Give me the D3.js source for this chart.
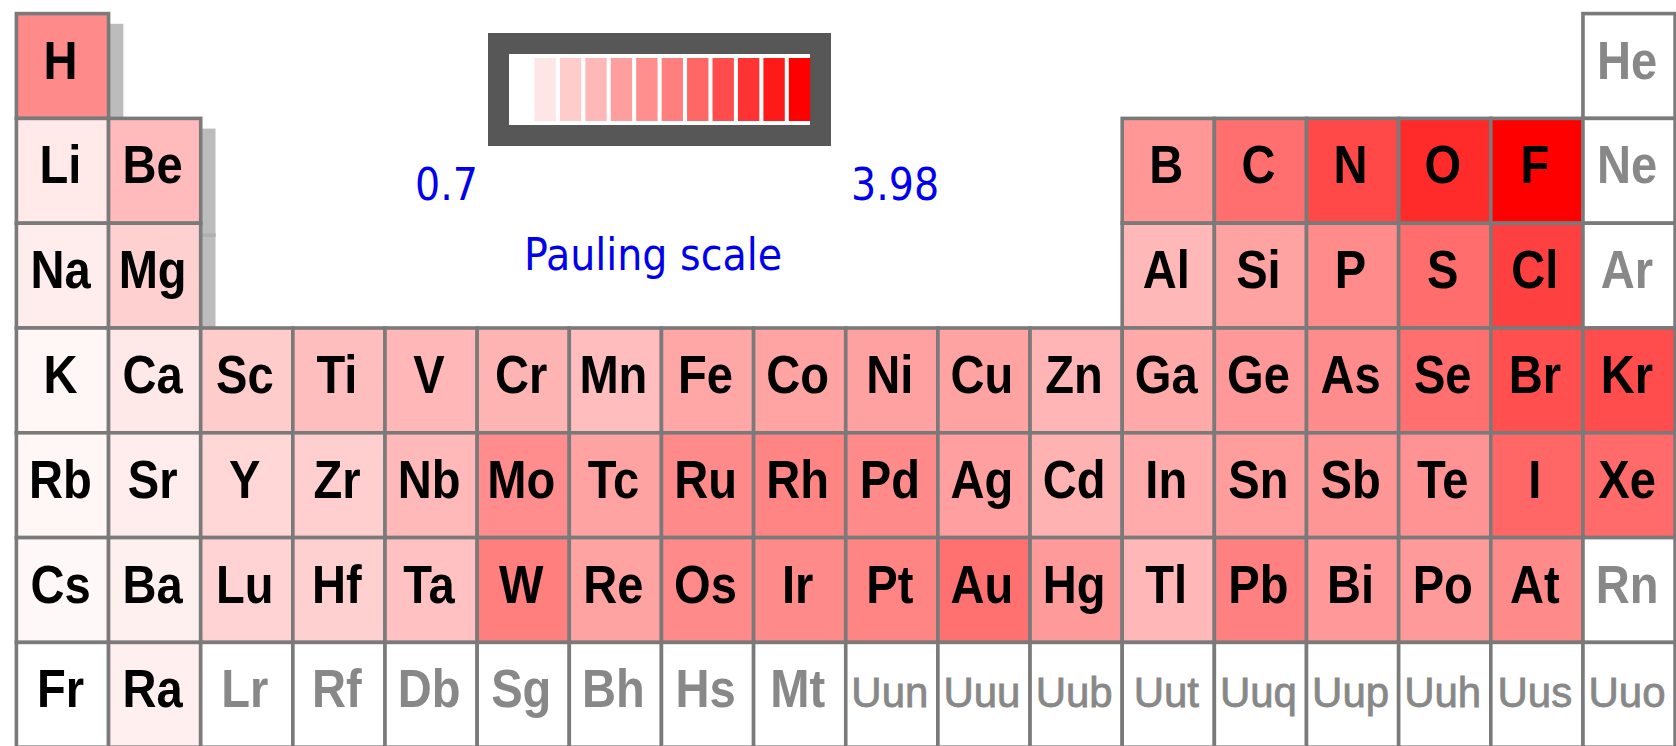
<!DOCTYPE html>
<html>
<head>
<meta charset="utf-8">
<script src="https://cdn.jsdelivr.net/npm/d3@7"></script>
<style>
  body { margin: 0; background: #fff; }
  svg { display: block; }
</style>
</head>
<body>
<div id="wrapper"></div>
<script>
// element symbols, row by row as in the table
const symbols = [
  "H", "He",
  "Li", "Be", "B", "C", "N", "O", "F", "Ne",
  "Na", "Mg", "Al", "Si", "P", "S", "Cl", "Ar",
  "K", "Ca", "Sc", "Ti", "V", "Cr", "Mn", "Fe", "Co", "Ni", "Cu", "Zn", "Ga", "Ge", "As", "Se", "Br", "Kr",
  "Rb", "Sr", "Y", "Zr", "Nb", "Mo", "Tc", "Ru", "Rh", "Pd", "Ag", "Cd", "In", "Sn", "Sb", "Te", "I", "Xe",
  "Cs", "Ba", "Lu", "Hf", "Ta", "W", "Re", "Os", "Ir", "Pt", "Au", "Hg", "Tl", "Pb", "Bi", "Po", "At", "Rn",
  "Fr", "Ra", "Lr", "Rf", "Db", "Sg", "Bh", "Hs", "Mt", "Uun", "Uuu", "Uub", "Uut", "Uuq", "Uup", "Uuh", "Uus", "Uuo"
];

// group numbers used in each period
const periodGroups = [
  [1, 18],
  [1, 2, 13, 14, 15, 16, 17, 18],
  [1, 2, 13, 14, 15, 16, 17, 18],
  [1, 2, 3, 4, 5, 6, 7, 8, 9, 10, 11, 12, 13, 14, 15, 16, 17, 18],
  [1, 2, 3, 4, 5, 6, 7, 8, 9, 10, 11, 12, 13, 14, 15, 16, 17, 18],
  [1, 2, 3, 4, 5, 6, 7, 8, 9, 10, 11, 12, 13, 14, 15, 16, 17, 18],
  [1, 2, 3, 4, 5, 6, 7, 8, 9, 10, 11, 12, 13, 14, 15, 16, 17, 18]
];

// electronegativity (Pauling), null = no value
const pauling = [
  2.20, null,
  0.98, 1.57, 2.04, 2.55, 3.04, 3.44, 3.98, null,
  0.93, 1.31, 1.61, 1.90, 2.19, 2.58, 3.16, null,
  0.82, 1.00, 1.36, 1.54, 1.63, 1.66, 1.55, 1.83, 1.88, 1.91, 1.90, 1.65, 1.81, 2.01, 2.18, 2.55, 2.96, 3.00,
  0.82, 0.95, 1.22, 1.33, 1.60, 2.16, 1.90, 2.20, 2.28, 2.20, 1.93, 1.69, 1.78, 1.96, 2.05, 2.10, 2.66, 2.60,
  0.79, 0.89, 1.27, 1.30, 1.50, 2.36, 1.90, 2.20, 2.20, 2.28, 2.54, 2.00, 1.62, 2.33, 2.02, 2.00, 2.20, null,
  0.70, 0.90, null, null, null, null, null, null, null, null, null, null, null, null, null, null, null, null
];

const legendColors = ["#ffffff", "#ffe6e6", "#ffcccc", "#ffb8b8", "#ff9e9e", "#ff8e8e",
                      "#ff7f7f", "#ff6666", "#ff4c4c", "#ff3333", "#ff1a1a", "#ff0000"];
const legendMin = "0.7";
const legendMax = "3.98";
const legendTitle = "Pauling scale";

const width = 1676, height = 746;
const lineColor = "#7a7a7a";
const lineW = 3.6;

const svg = d3.select("#wrapper").append("svg")
  .attr("width", width)
  .attr("height", height);

// build the cell list
const cells = [];
let k = 0;
periodGroups.forEach((gs, pi) => {
  gs.forEach(g => {
    cells.push({ sym: symbols[k], group: g, period: pi + 1, value: pauling[k] });
    k++;
  });
});

const x = d3.scaleLinear().domain([1, 19]).range([16.4, 16.4 + 18 * 92.15]);
const y = d3.scaleLinear().domain([1, 8]).range([13.6, 13.6 + 7 * 104.8]);
const color = d3.scaleLinear().domain([0.7, 3.98]).range(["#ffffff", "#ff0000"]);

const has = new Set(cells.map(d => d.group + "-" + d.period));

// drop shadow
const sdx = 13, sdy = 12;
const shadow = svg.append("g");
shadow.selectAll("rect").data(cells).join("rect")
  .attr("x", d => x(d.group) - lineW / 2 + sdx)
  .attr("y", d => y(d.period) - lineW / 2 + sdy)
  .attr("width", d => x(d.group + 1) - x(d.group) + lineW)
  .attr("height", d => y(d.period + 1) - y(d.period) + lineW)
  .attr("fill", "#bcbcbc");
shadow.selectAll("line")
  .data(cells.filter(d => has.has(d.group + "-" + (d.period - 1))))
  .join("line")
  .attr("x1", d => x(d.group) - lineW / 2 + sdx)
  .attr("x2", d => x(d.group + 1) + lineW / 2 + sdx)
  .attr("y1", d => y(d.period) + sdy)
  .attr("y2", d => y(d.period) + sdy)
  .attr("stroke", "#afafaf")
  .attr("stroke-width", lineW);

// cells
const cellG = svg.append("g");
cellG.selectAll("rect").data(cells).join("rect")
  .attr("x", d => x(d.group))
  .attr("y", d => y(d.period))
  .attr("width", d => x(d.group + 1) - x(d.group))
  .attr("height", d => y(d.period + 1) - y(d.period))
  .attr("fill", d => d.value == null ? "#ffffff" : color(d.value))
  .attr("stroke", lineColor)
  .attr("stroke-width", lineW);

// measure fonts so the labels get the narrow look of the original
const boldFont = "'Liberation Sans Narrow', 'Liberation Sans', Arial, sans-serif";
function measure(txt, weight, size) {
  const t = svg.append("text")
    .style("font-family", boldFont)
    .style("font-weight", weight)
    .style("font-size", size + "px")
    .text(txt);
  const w = t.node().getComputedTextLength();
  t.remove();
  return w;
}
const boldSize = 53, thinSize = 42;
const sxBold = 68 / measure("Mn", "bold", boldSize);
const sxThin = 77 / measure("Uun", "normal", thinSize);

const labels = svg.append("g");
labels.selectAll("text").data(cells).join("text")
  .attr("transform", d => {
    const cx = (x(d.group) + x(d.group + 1)) / 2 - 2;
    const by = y(d.period) + 65;
    const s = d.sym.length > 2 ? sxThin : sxBold;
    return `translate(${cx},${by}) scale(${s},1)`;
  })
  .attr("text-anchor", "middle")
  .style("font-family", boldFont)
  .style("font-weight", d => d.sym.length > 2 ? "normal" : "bold")
  .style("font-size", d => (d.sym.length > 2 ? thinSize : boldSize) + "px")
  .attr("fill", d => d.value == null ? "#888888" : "#000000")
  .attr("stroke", d => d.sym.length > 2 ? "#888888" : "none")
  .attr("stroke-width", 0.8)
  .text(d => d.sym);

// legend
const legend = svg.append("g");
legend.append("rect")
  .attr("x", 488).attr("y", 33)
  .attr("width", 343).attr("height", 113)
  .attr("fill", "#575757");
legend.append("rect")
  .attr("x", 509).attr("y", 54)
  .attr("width", 301).attr("height", 71)
  .attr("fill", "#ffffff");

const sw = d3.scaleBand()
  .domain(d3.range(legendColors.length))
  .range([509, 509 + legendColors.length * 25.1])
  .paddingInner(0.16)
  .paddingOuter(0);
legend.selectAll(".sw").data(legendColors).join("rect")
  .attr("class", "sw")
  .attr("x", (d, i) => sw(i))
  .attr("y", 58)
  .attr("width", sw.bandwidth())
  .attr("height", 63)
  .attr("fill", d => d);

const legendFont = "'DejaVu Sans Condensed', 'DejaVu Sans', sans-serif";
legend.append("text")
  .attr("x", 415).attr("y", 200)
  .style("font-family", legendFont)
  .style("font-size", "44px")
  .attr("fill", "#0000ee")
  .text(legendMin);
legend.append("text")
  .attr("x", 851).attr("y", 200)
  .style("font-family", legendFont)
  .style("font-size", "44px")
  .attr("fill", "#0000ee")
  .text(legendMax);
legend.append("text")
  .attr("x", 524).attr("y", 270)
  .style("font-family", legendFont)
  .style("font-size", "44px")
  .attr("fill", "#0000ee")
  .text(legendTitle);
</script>
</body>
</html>
